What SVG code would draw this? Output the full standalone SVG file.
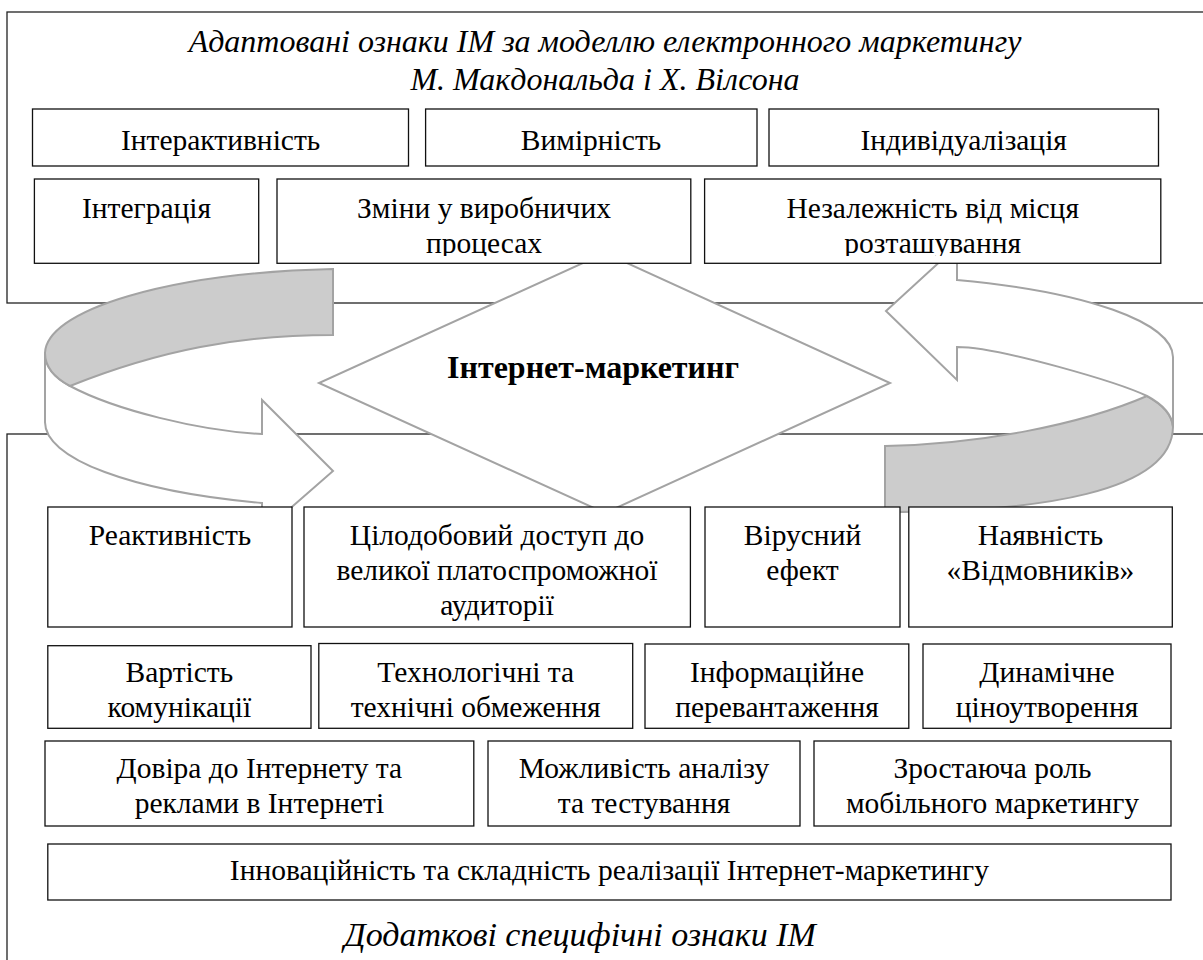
<svg xmlns="http://www.w3.org/2000/svg" width="1203" height="960" viewBox="0 0 1203 960">
<defs>
<style>
.cont{fill:none;stroke:#222;stroke-width:1.3}
.box{fill:#fff;stroke:#111;stroke-width:1.3}
.arr{stroke:#a3a3a3;stroke-width:2;stroke-linejoin:miter}
text{font-family:'Liberation Serif',serif;font-size:29.5px;fill:#000;text-anchor:middle}
.ti{font-style:italic;font-size:32px}
.tb{font-weight:bold;font-size:32px}
</style>
<clipPath id="clipA"><rect x="277" y="179" width="414" height="77"/></clipPath>
<clipPath id="clipB"><rect x="705" y="179" width="456" height="77"/></clipPath>
</defs>
<rect width="1203" height="960" fill="#fff"/>

<g id="container-top">
<rect class="cont" x="7" y="12" width="1210" height="291"/>
<text class="ti" x="605" y="52">Адаптовані ознаки ІМ за моделлю електронного маркетингу</text>
<text class="ti" x="605" y="90">М. Макдональда і Х. Вілсона</text>
</g>
<g id="container-bottom">
<rect class="cont" x="7" y="434" width="1210" height="540"/>
<text class="ti" x="580" y="946" style="font-size:34px">Додаткові специфічні ознаки ІМ</text>
</g>

<g id="connectors">
<g id="arrow-left">
<path class="arr" fill="#fff" d="M45,353 L45,422 A315,85 0 0 0 262,503 L262,533 L333,471 L262,400 L262,434 C200,431 115,410 70,386 C55,378 45,368 45,353 Z"/>
<path class="arr" fill="#cccccc" d="M333,269 A315,85 0 0 0 45,353 C45,368 55,378 70,386 C160,350 240,335 333,335 Z"/>
</g>
<g id="arrow-right">
<path class="arr" fill="#cccccc" d="M885,520 L885,446 C980,444 1080,425 1147,396 C1160,403 1172,413 1173,427 C1172,492 1040,512 885,512"/>
<path class="arr" fill="#fff" d="M957,280 A323,82 0 0 1 1173,357 L1173,427 C1172,413 1160,403 1147,396 C1120,383 1000,347 957,347 L957,380 L886,311 L957,246 Z"/>
</g>
</g>

<g id="diamond">
<polygon points="605,253 890,383 605,513 319,383" fill="#fff" stroke="#a3a3a3" stroke-width="2"/>
<text class="tb" x="593" y="378">Інтернет-маркетинг</text>
</g>

<g id="n1"><rect class="box" x="32.5" y="109" width="376" height="57"/><text x="220.6" y="150">Інтерактивність</text></g>
<g id="n2"><rect class="box" x="425.6" y="109" width="331.4" height="57"/><text x="591" y="150">Вимірність</text></g>
<g id="n3"><rect class="box" x="769" y="109" width="389.5" height="57"/><text x="963.7" y="150">Індивідуалізація</text></g>
<g id="n4"><rect class="box" x="34.4" y="179" width="224.3" height="84.3"/><text x="146.5" y="218">Інтеграція</text></g>
<g id="n5"><rect class="box" x="277" y="179" width="413.8" height="84.3"/><g clip-path="url(#clipA)"><text x="484" y="218">Зміни у виробничих</text><text x="484" y="253">процесах</text></g></g>
<g id="n6"><rect class="box" x="704.6" y="179" width="456.2" height="84.3"/><g clip-path="url(#clipB)"><text x="932.7" y="218">Незалежність від місця</text><text x="932.7" y="253">розташування</text></g></g>

<g id="n7"><rect class="box" x="47.8" y="507" width="244.2" height="120"/><text x="170" y="545">Реактивність</text></g>
<g id="n8"><rect class="box" x="304" y="507" width="386.4" height="120"/><text x="497" y="545">Цілодобовий доступ до</text><text x="497" y="580">великої платоспроможної</text><text x="497" y="615">аудиторії</text></g>
<g id="n9"><rect class="box" x="705" y="507" width="195" height="120"/><text x="802.5" y="545">Вірусний</text><text x="802.5" y="580">ефект</text></g>
<g id="n10"><rect class="box" x="908.8" y="507" width="263.5" height="120"/><text x="1040.5" y="545">Наявність</text><text x="1040.5" y="580">«Відмовників»</text></g>

<g id="n11"><rect class="box" x="47.8" y="645.7" width="263.2" height="82.6"/><text x="179.4" y="682">Вартість</text><text x="179.4" y="717">комунікації</text></g>
<g id="n12"><rect class="box" x="318.8" y="643.5" width="313.9" height="84.8"/><text x="475.7" y="682">Технологічні та</text><text x="475.7" y="717">технічні обмеження</text></g>
<g id="n13"><rect class="box" x="645" y="644" width="263.8" height="84.3"/><text x="777" y="682">Інформаційне</text><text x="777" y="717">перевантаження</text></g>
<g id="n14"><rect class="box" x="923" y="644" width="248" height="84.3"/><text x="1047" y="682">Динамічне</text><text x="1047" y="717">ціноутворення</text></g>

<g id="n15"><rect class="box" x="45" y="741" width="428.8" height="85"/><text x="259.4" y="778">Довіра до Інтернету та</text><text x="259.4" y="813">реклами в Інтернеті</text></g>
<g id="n16"><rect class="box" x="488" y="741" width="312" height="85"/><text x="644" y="778">Можливість аналізу</text><text x="644" y="813">та тестування</text></g>
<g id="n17"><rect class="box" x="814" y="741" width="357" height="85"/><text x="992.5" y="778">Зростаюча роль</text><text x="992.5" y="813">мобільного маркетингу</text></g>

<g id="n18"><rect class="box" x="47.8" y="844" width="1123.2" height="56"/><text x="609.4" y="880">Інноваційність та складність реалізації Інтернет-маркетингу</text></g>
</svg>
